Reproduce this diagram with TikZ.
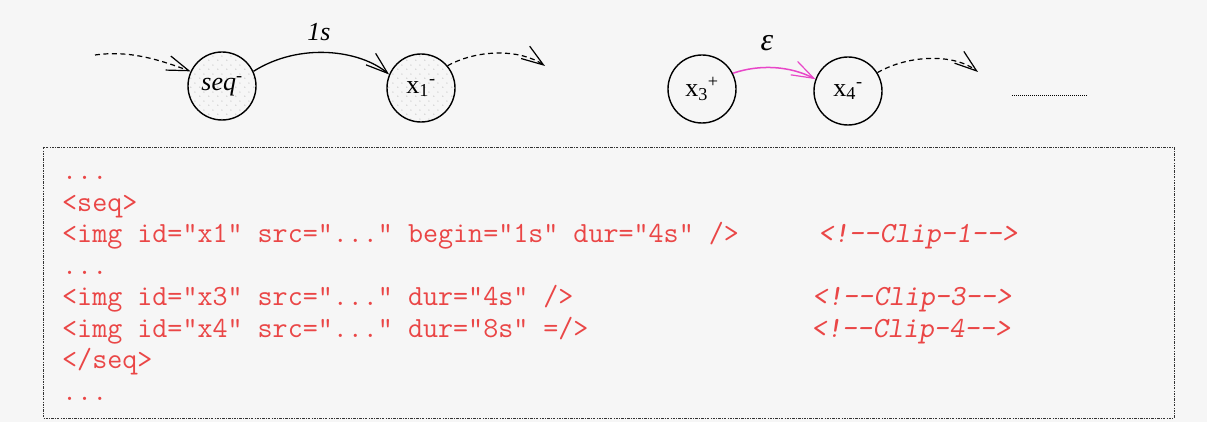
\documentclass[tikz,border=0pt]{standalone}
\usepackage{fontspec}
\setmainfont{Liberation Serif}
\usetikzlibrary{arrows.meta,patterns.meta}
\definecolor{bgcol}{RGB}{246,246,246}
\definecolor{codered}{RGB}{234,70,70}
\definecolor{pinkarrow}{RGB}{232,70,200}
\tikzdeclarepattern{
  name=sparsedots,
  type=uncolored,
  bottom left={(0pt,0pt)},
  top right={(9pt,9pt)},
  tile size={(9pt,9pt)},
  code={
    \pgfpathcircle{\pgfqpoint{2pt}{2pt}}{0.55pt}
    \pgfpathcircle{\pgfqpoint{6.5pt}{6.5pt}}{0.55pt}
    \pgfusepath{fill}
  }
}
\tikzset{
  state/.style={circle, draw, line width=1.4pt, minimum size=68pt, inner sep=0pt,
    font=\fontsize{26}{30}\selectfont},
  dotted state/.style={state, pattern=sparsedots, pattern color=gray!70},
  barb/.style={-{Straight Barb[length=22pt,width=15pt,line width=1.2pt]}},
  dasharrow/.style={barb, line width=1.2pt, dash pattern=on 5pt off 3.5pt},
  solidarrow/.style={barb, line width=1.3pt},
  pinkedge/.style={barb, line width=1.5pt, draw=pinkarrow},
  frame/.style={draw=black!80, line width=0.9pt, dash pattern=on 2.5pt off 1.2pt on 0.8pt off 1.2pt},
  codeline/.style={anchor=base west, inner sep=0pt, text=codered,
    font=\ttfamily\fontsize{29.2}{32}\selectfont},
  comment/.style={codeline, font=\ttfamily\slshape\fontsize{29.2}{32}\selectfont},
  lbl/.style={inner sep=0pt, font=\fontsize{26}{30}\selectfont}
}
\begin{document}
\begin{tikzpicture}[x=1pt,y=-1pt]
\useasboundingbox (0,0) rectangle (1207,422);
\fill[bgcol] (0,0) rectangle (1207,422);

% top graph
\node[dotted state] (seq) at (222,86) {\itshape seq\upshape\textsuperscript{-}};
\node[dotted state] (x1) at (421,88) {x\textsubscript{1}\textsuperscript{-}};
\node[state] (x3) at (702,89) {x\textsubscript{3}\textsuperscript{+}};
\node[state] (x4) at (848,91) {x\textsubscript{4}\textsuperscript{-}};

\coordinate (in0) at (95,55);
\coordinate (out1) at (545,66);
\coordinate (out4) at (978,72);
\coordinate (dl1) at (1012,96);
\coordinate (dl2) at (1087,96);

\draw[dasharrow] (in0) .. controls (130,50) and (160,60) .. (seq.155);
\draw[solidarrow] (seq.25) .. controls (300,42) and (360,50) .. (x1.157);
\node[lbl] (lab1s) at (319,32) {\itshape 1s};
\draw[dasharrow] (x1.40) .. controls (480,48) and (522,50) .. (out1);
\draw[pinkedge] (x3.27) .. controls (760,64) and (790,66) .. (x4.160);
\node[lbl, font=\fontsize{32}{34}\selectfont\itshape] (labeps) at (767,43) {ε};
\draw[dasharrow] (x4.32) .. controls (910,54) and (955,54) .. (out4);
\draw[line width=1pt, dash pattern=on 1pt off 1pt] (dl1) -- (dl2);

% code box
\draw[frame] (43,147) rectangle (1174,418);
\node[codeline] (c1) at (62,180) {...};
\node[codeline] (c2) at (62,211.4) {<seq>};
\node[codeline] (c3) at (62,242.9) {<img id="x1" src="..." begin="1s" dur="4s" />};
\node[codeline] (c4) at (62,274.3) {...};
\node[codeline] (c5) at (62,305.7) {<img id="x3" src="..." dur="4s" />};
\node[codeline] (c6) at (62,337.1) {<img id="x4" src="..." dur="8s" =/>};
\node[codeline] (c7) at (62,368.6) {</seq>};
\node[codeline] (c8) at (62,400) {...};
\node[comment] (k1) at (818,242.9) {<!--Clip-1-->};
\node[comment] (k3) at (812,305.7) {<!--Clip-3-->};
\node[comment] (k4) at (811,337.1) {<!--Clip-4-->};
\end{tikzpicture}
\end{document}
